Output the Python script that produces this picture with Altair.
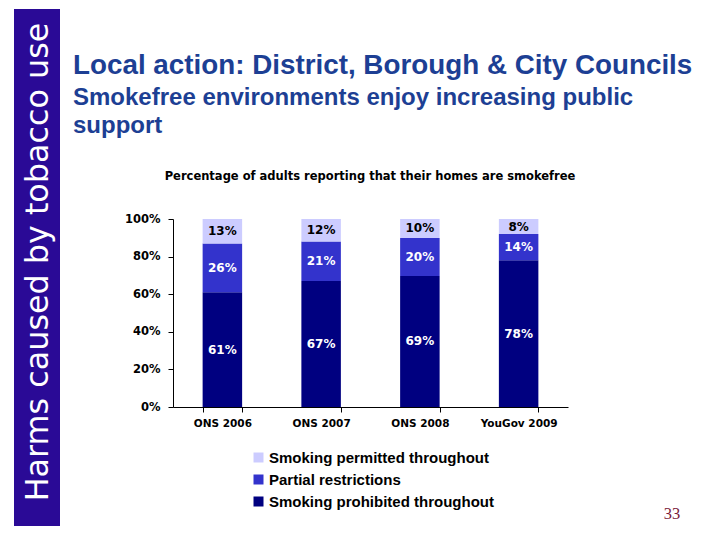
import altair as alt
import pandas as pd

# ---- data ----
sources = ["ONS 2006", "ONS 2007", "ONS 2008", "YouGov 2009"]
categories = ["Smoking permitted throughout", "Partial restrictions", "Smoking prohibited throughout"]
prohibited = [61, 67, 69, 78]
partial = [26, 21, 20, 14]
permitted = [13, 12, 10, 8]
colors = ["#ccccff", "#3333cc", "#000080"]
y_ticks = [0, 0.2, 0.4, 0.6, 0.8, 1.0]

side_text = "Harms caused by tobacco use"
title_text = "Local action: District, Borough & City Councils"
subtitle_lines = ["Smokefree environments enjoy increasing public", "support"]
chart_title = "Percentage of adults reporting that their homes are smokefree"
page_number = "33"

FONT = "Liberation Sans"
WFONT = "DejaVu Sans"

rows = []
for i, s in enumerate(sources):
    vals = [prohibited[i], partial[i], permitted[i]]
    cats = [categories[2], categories[1], categories[0]]
    lcs = ["white", "white", "black"]
    total = sum(vals)
    y0 = 0
    for v, c, lc in zip(vals, cats, lcs):
        y1 = y0 + v
        rows.append(dict(source=s, category=c, value=v,
                         y0=y0 / total, y1=y1 / total, mid=(y0 + y1) / 2 / total,
                         label=f"{v}%", lc=lc))
        y0 = y1
df = pd.DataFrame(rows)

xaxis = alt.Axis(title=None, labelAngle=0, tickBand="extent", domainColor="black",
                 tickColor="black", tickSize=5, labelPadding=6,
                 labelFont=WFONT, labelFontSize=10.5, labelFontWeight="bold",
                 labelColor="black", labelBaseline="top")
yaxis = alt.Axis(title=None, values=y_ticks, format="%", grid=False,
                 domainColor="black", tickColor="black", tickSize=5,
                 labelPadding=8, labelFont=WFONT, labelFontSize=11.5,
                 labelFontWeight="bold", labelColor="black",
                 labelOverlap=False, labelFlush=False)
xscale = alt.Scale(paddingInner=0.6, paddingOuter=0.3)
yscale = alt.Scale(domain=[0, 1], nice=False)

bars = alt.Chart(df).mark_bar().encode(
    x=alt.X("source:N", sort=sources, scale=xscale, axis=xaxis),
    y=alt.Y("y0:Q", scale=yscale, axis=yaxis),
    y2="y1:Q",
    color=alt.Color("category:N",
                    scale=alt.Scale(domain=categories, range=colors),
                    legend=alt.Legend(orient="none", legendX=78, legendY=231, title=None,
                                      symbolType="square", symbolSize=100,
                                      symbolStrokeWidth=0, labelFont=FONT,
                                      labelFontSize=15, labelFontWeight="bold",
                                      labelColor="black", rowPadding=6, labelOffset=3,
                                      labelLimit=400)),
)

labels = alt.Chart(df).mark_text(font=WFONT, fontSize=12, fontWeight="bold",
                                 baseline="middle").encode(
    x=alt.X("source:N", sort=sources, scale=xscale, axis=xaxis),
    y=alt.Y("mid:Q", scale=yscale, axis=yaxis),
    text="label:N",
    color=alt.Color("lc:N", scale=None),
)

one = pd.DataFrame({"a": [0]})

sidebar = alt.Chart(one).mark_rect(color="#2a0a96").encode(
    x=alt.value(-159), x2=alt.value(-113), y=alt.value(-210), y2=alt.value(307))

side = alt.Chart(one).mark_text(text=side_text, angle=270, font="DejaVu Sans",
                                fontSize=31.8, color="white", align="center",
                                baseline="alphabetic").encode(
    x=alt.value(-125), y=alt.value(43))

title = alt.Chart(one).mark_text(text=title_text, font=FONT, fontSize=27.8,
                                 fontWeight="bold", color="#1d3f94", align="left",
                                 baseline="alphabetic").encode(
    x=alt.value(-100), y=alt.value(-145))

sub1 = alt.Chart(one).mark_text(text=subtitle_lines[0], font=FONT, fontSize=24,
                                fontWeight="bold", color="#1d3f94", align="left",
                                baseline="alphabetic").encode(
    x=alt.value(-100), y=alt.value(-114))
sub2 = alt.Chart(one).mark_text(text=subtitle_lines[1], font=FONT, fontSize=24,
                                fontWeight="bold", color="#1d3f94", align="left",
                                baseline="alphabetic").encode(
    x=alt.value(-100), y=alt.value(-86))

ctitle = alt.Chart(one).mark_text(text=chart_title, font=WFONT, fontSize=11.5,
                                  fontWeight="bold", color="black", align="center",
                                  baseline="alphabetic").encode(
    x=alt.value(197), y=alt.value(-39))

pnum = alt.Chart(one).mark_text(text=page_number, font="Liberation Serif", fontSize=16.5,
                                color="#7b1a3a", align="center",
                                baseline="alphabetic").encode(
    x=alt.value(499), y=alt.value(300))

chart = alt.layer(sidebar, side, title, sub1, sub2, ctitle, pnum, bars, labels).properties(
    width=395, height=188,
    autosize=alt.AutoSizeParams(type="none"),
    padding={"left": 165, "top": 211, "right": 144, "bottom": 125},
).configure_view(stroke=None).resolve_scale(color="independent")

chart.save("out.html", embed_options={"renderer": "svg", "actions": False})
